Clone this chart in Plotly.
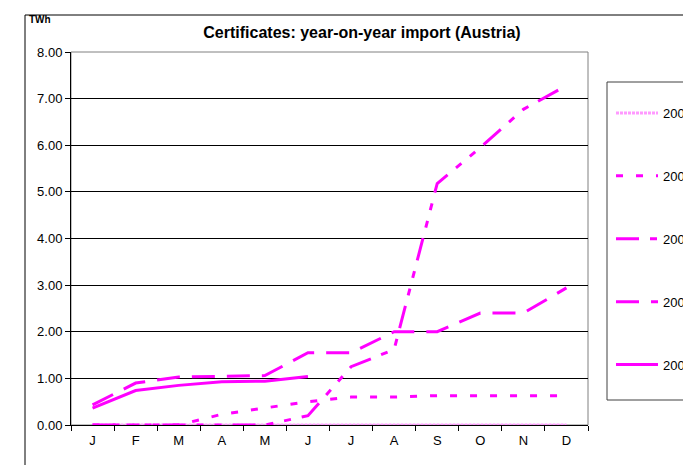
import plotly.graph_objects as go

months = ["J", "F", "M", "A", "M", "J", "J", "A", "S", "O", "N", "D"]
series_names = ["2003", "2004", "2005", "2006", "2007"]
s2003 = [0, 0, 0, 0, 0, 0, 0, 0, 0, 0, 0, 0]
s2004 = [0, 0, 0, 0.23, 0.37, 0.5, 0.6, 0.6, 0.63, 0.63, 0.63, 0.63]
s2005 = [0, 0, 0, 0, 0, 0.2, 1.25, 1.62, 5.18, 5.95, 6.77, 7.28]
s2006 = [0.43, 0.9, 1.03, 1.04, 1.06, 1.55, 1.55, 2.0, 2.0, 2.4, 2.4, 2.94]
s2007 = [0.36, 0.74, 0.85, 0.93, 0.94, 1.04]
y_ticks = [0, 1, 2, 3, 4, 5, 6, 7, 8]

W, H = 683, 465
L, R, T, B = 71, 588, 52, 425


def px(x):
    return (x - L) / (R - L)


def py(y):
    return (B - y) / (B - T)


xcat = list(range(12))
fig = go.Figure()
styles = [
    dict(color="#FF99FF", width=3, dash="3px,1px"),
    dict(color="#FF00FF", width=3, dash="7px,13px"),
    dict(color="#FF00FF", width=3, dash="23px,11px,7px,11px,7px,11px"),
    dict(color="#FF00FF", width=3, dash="23px,12px"),
    dict(color="#FF00FF", width=3, dash="solid"),
]
data = [s2003, s2004, s2005, s2006, s2007]
for name, vals, st in zip(series_names, data, styles):
    fig.add_trace(go.Scatter(
        x=xcat[:len(vals)], y=vals, mode="lines", name=name,
        line=st, legendgroup=name, hoverinfo="skip"))

shapes = [
    # outer chart frame
    dict(type="rect", xref="paper", yref="paper", x0=px(25), x1=px(720),
         y0=py(500), y1=py(15), line=dict(color="#000000", width=1), layer="below"),
    # plot area border
    dict(type="rect", xref="paper", yref="paper", x0=0, x1=1, y0=0, y1=1,
         line=dict(color="#808080", width=1), layer="below"),
    # legend box
    dict(type="rect", xref="paper", yref="paper", x0=px(607), x1=px(720),
         y0=py(400), y1=py(82), line=dict(color="#404040", width=1)),
]

fig.update_layout(
    width=W, height=H,
    margin=dict(l=L, r=W - R, t=T, b=H - B, autoexpand=False),
    paper_bgcolor="white", plot_bgcolor="white",
    font=dict(family="Liberation Sans, Arial", size=13, color="#000000"),
    title=dict(text="<b>Certificates: year-on-year import (Austria)</b>",
               xref="paper", x=px(362), xanchor="center",
               yref="container", y=1 - 32 / H, yanchor="middle",
               font=dict(size=16, family="Liberation Sans, Arial", color="#000000")),
    showlegend=True,
    legend=dict(x=px(611), xanchor="left", y=py(98), yanchor="top",
                bgcolor="rgba(0,0,0,0)", borderwidth=0,
                tracegroupgap=43, itemwidth=42,
                font=dict(size=13, family="Liberation Sans, Arial")),
    shapes=shapes,
    annotations=[dict(text="<b>TWh</b>", xref="paper", yref="paper",
                      x=px(27), y=py(20), xanchor="left", yanchor="middle",
                      showarrow=False, font=dict(size=10))],
)
fig.update_xaxes(
    type="linear", range=[-0.5, 11.5], tickmode="array", tickvals=xcat,
    ticktext=months, showgrid=False, zeroline=False,
    showline=True, linecolor="#000000", linewidth=1,
    ticks="", tickfont=dict(size=13), fixedrange=True,
    ticklabelstandoff=3,
)
# boundary ticks between categories
fig.update_xaxes(minor=dict(tickmode="array",
                            tickvals=[i + 0.5 for i in range(-1, 12)],
                            ticks="outside", ticklen=5, tickcolor="#000000",
                            showgrid=False))
fig.update_yaxes(
    range=[0, 8], tickmode="array", tickvals=y_ticks, tickformat=".2f",
    showgrid=True, gridcolor="#000000", gridwidth=1, zeroline=False,
    showline=True, linecolor="#000000", linewidth=1,
    ticks="outside", ticklen=5, tickcolor="#000000",
    tickfont=dict(size=13), fixedrange=True,
)

fig.write_html("out.html", config={"displayModeBar": False, "staticPlot": True},
               post_script="document.body.style.margin='0';document.body.style.overflow='hidden';")
